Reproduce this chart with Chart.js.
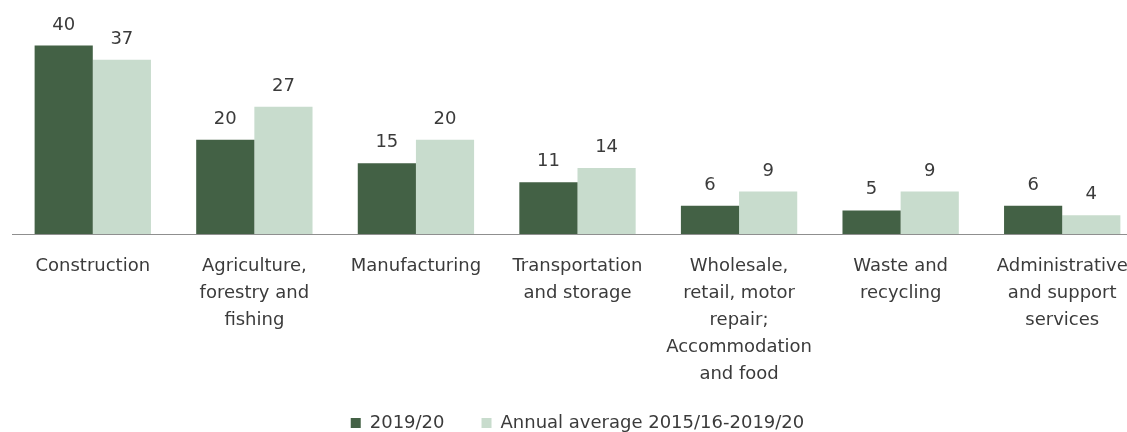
<!DOCTYPE html>
<html>
<head>
<meta charset="utf-8">
<script src="https://cdn.jsdelivr.net/npm/chart.js@4/dist/chart.umd.min.js"></script>
<style>
  html, body { margin: 0; padding: 0; background: #fff; overflow: hidden; }
  #wrap { width: 1150px; height: 432px; }
</style>
</head>
<body>
<div id="wrap"><canvas id="sectorChart" width="1150" height="432"></canvas></div>
<script>
// --- Chart data ---
const categories = [
    'Construction',
    ['Agriculture,', 'forestry and', 'fishing'],
    'Manufacturing',
    ['Transportation', 'and storage'],
    ['Wholesale,', 'retail, motor', 'repair;', 'Accommodation', 'and food'],
    ['Waste and', 'recycling'],
    ['Administrative', 'and support', 'services']
];
const seriesNames = ['2019/20', 'Annual average 2015/16-2019/20'];
const values2019 = [40, 20, 15, 11, 6, 5, 6];
const valuesAverage = [37, 27, 20, 14, 9, 9, 4];

const darkGreen = '#436145';
const lightGreen = '#c8dccd';
const textColor = '#3b3b3b';
const fontFamily = '"DejaVu Sans", Verdana, sans-serif';

// --- Value labels above each bar ---
const valueLabels = {
    id: 'valueLabels',
    afterDatasetsDraw(chart) {
        const ctx = chart.ctx;
        ctx.save();
        ctx.font = '18px ' + fontFamily;
        ctx.fillStyle = textColor;
        ctx.textAlign = 'center';
        ctx.textBaseline = 'alphabetic';
        chart.data.datasets.forEach((ds, i) => {
            chart.getDatasetMeta(i).data.forEach((bar, j) => {
                ctx.fillText(String(ds.data[j]), bar.x, bar.y - 16);
            });
        });
        ctx.restore();
    }
};

// the legend box overlaps the bottom of the long category labels,
// so let the x axis labels draw below its own box
const labelRoom = {
    id: 'labelRoom',
    afterLayout(chart) {
        chart.scales.x.bottom = 400;
    }
};

const ctx = document.getElementById('sectorChart').getContext('2d');
new Chart(ctx, {
    type: 'bar',
    data: {
        labels: categories,
        datasets: [
            { label: seriesNames[0], data: values2019, backgroundColor: darkGreen, borderWidth: 0 },
            { label: seriesNames[1], data: valuesAverage, backgroundColor: lightGreen, borderWidth: 0 }
        ]
    },
    options: {
        responsive: false,
        animation: false,
        devicePixelRatio: 1,
        categoryPercentage: 0.72,
        barPercentage: 1.0,
        layout: { padding: { top: 22, left: 12, right: 7, bottom: -10 } },
        scales: {
            x: {
                grid: { display: false, drawTicks: false },
                border: { display: true, color: '#8f8f8f', width: 1 },
                ticks: {
                    color: textColor,
                    font: { family: fontFamily, size: 18, lineHeight: 1.5 },
                    padding: 19,
                    autoSkip: false,
                    maxRotation: 0,
                    minRotation: 0
                },
                afterFit: (scale) => { scale.height = 143; }
            },
            y: { display: false, min: 0, max: 45 }
        },
        plugins: {
            legend: {
                position: 'bottom',
                labels: {
                    color: textColor,
                    font: { family: fontFamily, size: 18 },
                    boxWidth: 10,
                    boxHeight: 10,
                    padding: 37
                }
            },
            tooltip: { enabled: false }
        }
    },
    plugins: [valueLabels, labelRoom]
});
</script>
</body>
</html>
